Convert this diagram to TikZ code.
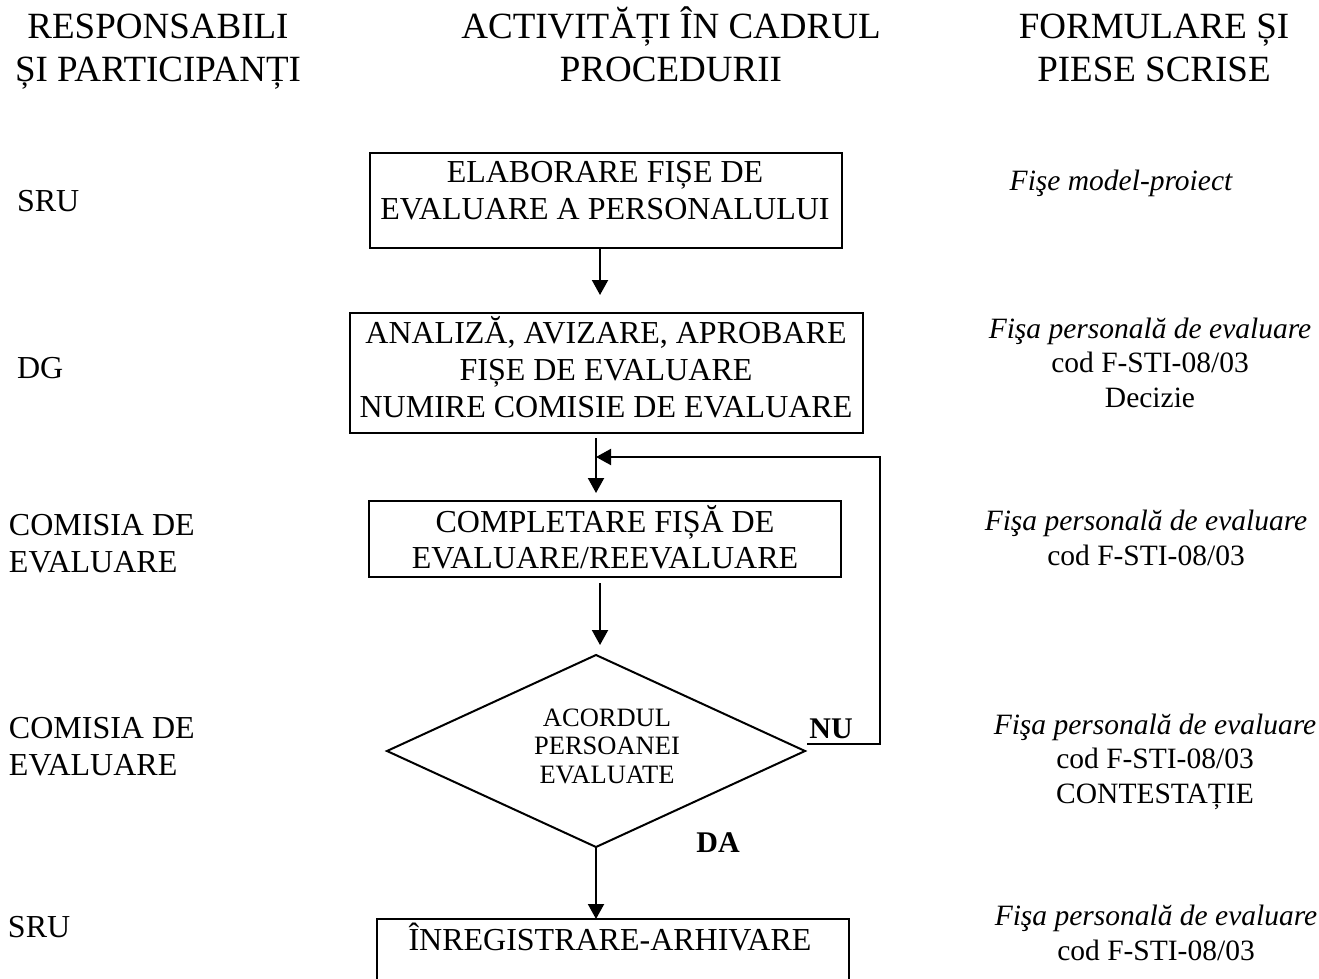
\documentclass[tikz,border=0pt]{standalone}
\usepackage{fontspec}
\setmainfont{Liberation Serif}
\usetikzlibrary{arrows.meta,shapes.geometric}
\begin{document}
\begin{tikzpicture}[x=1pt,y=-1pt,
  every node/.style={inner sep=0pt, outer sep=0pt},
  hdr/.style={anchor=base, align=center, font=\fontsize{37}{43}\selectfont},
  lbl/.style={anchor=base west, align=left, font=\fontsize{32}{37}\selectfont},
  boxtxt/.style={anchor=base, align=center, font=\fontsize{32}{37}\selectfont},
  doc/.style={anchor=base, align=center, font=\fontsize{29.5}{34.5}\selectfont},
  box/.style={draw, rectangle, line width=2pt},
  dia/.style={draw, diamond, line width=2pt},
  conn/.style={line width=2pt},
  arr/.style={conn, -{Triangle[length=15pt,width=16pt]}},
  yesno/.style={anchor=base, font=\fontsize{30}{34}\selectfont\bfseries}]
\useasboundingbox (0,0) rectangle (1319,979);
% headers (base = last line)
\node[hdr] (h1) at (158,82) {RESPONSABILI\\ȘI PARTICIPANȚI};
\node[hdr] (h2) at (671,82) {ACTIVITĂȚI ÎN CADRUL\\PROCEDURII};
\node[hdr] (h3) at (1154,82) {FORMULARE ȘI\\PIESE SCRISE};
% left column
\node[lbl] (r1) at (17,211) {SRU};
\node[lbl] (r2) at (17,378) {DG};
\node[lbl] (r3) at (9,572) {COMISIA DE\\EVALUARE};
\node[lbl] (r4) at (9,775) {COMISIA DE\\EVALUARE};
\node[lbl] (r5) at (8,937) {SRU};
% boxes
\node[box, minimum width=472pt, minimum height=95pt] (b1) at (606,200.5) {};
\node[boxtxt] (t1) at (605,219) {ELABORARE FIȘE DE\\EVALUARE A PERSONALULUI};
\node[box, minimum width=513pt, minimum height=120pt] (b2) at (606.5,373) {};
\node[boxtxt] (t2) at (606,417) {ANALIZĂ, AVIZARE, APROBARE\\FIȘE DE EVALUARE\\NUMIRE COMISIE DE EVALUARE};
\node[box, minimum width=472pt, minimum height=76pt] (b3) at (605,539) {};
\node[boxtxt, font=\fontsize{32}{36}\selectfont] (t3) at (605,568) {COMPLETARE FIȘĂ DE\\EVALUARE/REEVALUARE};
\node[dia, minimum width=418pt, minimum height=192pt] (d) at (596,751) {};
\node[anchor=base, align=center, font=\fontsize{26.5}{28.5}\selectfont] (td) at (607,783) {ACORDUL\\PERSOANEI\\EVALUATE};
\node[box, minimum width=472pt, minimum height=100pt] (b5) at (613,969) {};
\node[boxtxt] (t5) at (610,950) {ÎNREGISTRARE-ARHIVARE};
% labels
\node[yesno] (nu) at (831,738) {NU};
\node[yesno] (da) at (718,852) {DA};
% right column
\node[doc] (f1) at (1121,190) {\itshape Fişe model-proiect};
\node[doc] (f2) at (1150,407) {\textit{Fişa personală de evaluare}\\cod F-STI-08/03\\Decizie};
\node[doc] (f3) at (1146,565) {\textit{Fişa personală de evaluare}\\cod F-STI-08/03};
\node[doc] (f4) at (1155,803) {\textit{Fişa personală de evaluare}\\cod F-STI-08/03\\CONTESTAȚIE};
\node[doc] (f5) at (1156,960) {\textit{Fişa personală de evaluare}\\cod F-STI-08/03};
% connectors
\coordinate (x1) at (600,0);
\coordinate (x2) at (596,0);
\coordinate (j) at (596,457);
\coordinate (nuR) at (880,744);
\draw[arr, shorten >=18pt] (b1.south -| x1) -- (b2.north -| x1);
\draw[arr, shorten <=5pt, shorten >=8pt] (b2.south -| x2) -- (b3.north -| x2);
\draw[arr, shorten <=6pt, shorten >=10pt] (b3.south -| x1) -- (d.north -| x1);
\draw[arr] (d.south) -- (b5.north -| d.south);
\draw[arr] ([xshift=2pt]d.east |- nuR) -- (nuR) |- (j);
\end{tikzpicture}
\end{document}
